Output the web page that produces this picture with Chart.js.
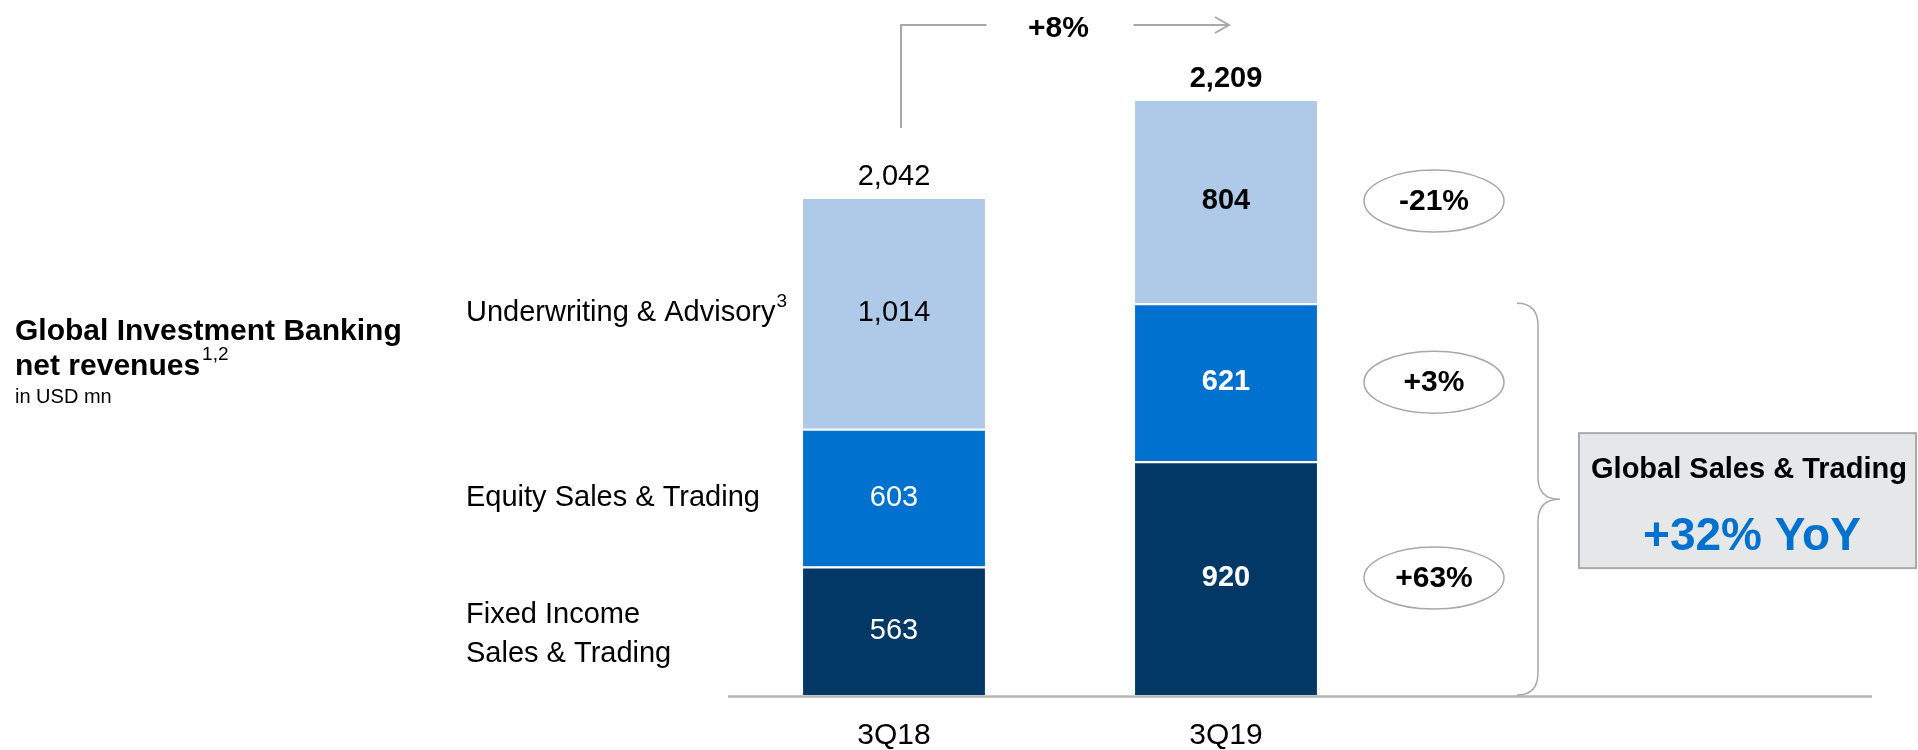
<!DOCTYPE html>
<html>
<head>
<meta charset="utf-8">
<title>Global Investment Banking net revenues</title>
<script src="https://cdn.jsdelivr.net/npm/chart.js@4.4.1/dist/chart.umd.min.js"></script>
<style>
  html, body { margin: 0; padding: 0; background: #fff; }
  #wrap { width: 1918px; height: 750px; }
</style>
</head>
<body>
<div id="wrap"><canvas id="ib_chart" width="1918" height="750"></canvas></div>
<script>
// data
const periods = ['3Q18', '3Q19'];
const segments = ['Fixed Income\nSales & Trading', 'Equity Sales & Trading', 'Underwriting & Advisory'];
const segmentNotes = ['', '', '3'];
const fixedIncome = [563, 920];
const equity = [603, 621];
const underwriting = [1014, 804];
const totals = [2042, 2209];
const segmentChanges = ['+63%', '+3%', '-21%'];
const totalChange = '+8%';
const salesTradingLabel = 'Global Sales & Trading';
const salesTradingChange = '+32% YoY';

const COLORS = ['#023866', '#0071CE', '#AFC9E9'];
const FONT = "'Liberation Sans', Arial, Helvetica, sans-serif";
const LINE_GREY = '#a8a8a8';

// the slide draws each quarter to its own scale, so each quarter gets its own y axis
const seriesValues = [fixedIncome, equity, underwriting];
const axisIds = ['y', 'y2'];

var datasets = [];
periods.forEach(function (p, pi) {
    seriesValues.forEach(function (vals, si) {
        datasets.push({
            label: segments[si] + ' ' + p,
            data: periods.map(function (_, i) { return i === pi ? vals[i] : null; }),
            backgroundColor: COLORS[si],
            borderColor: '#ffffff',
            borderWidth: {top: 2, left: 0, right: 0, bottom: 0},
            yAxisID: axisIds[pi],
            period: pi,
            segment: si
        });
    });
});

function metaFor(chart, pi, si) {
    var idx = chart.data.datasets.findIndex(function (d) { return d.period === pi && d.segment === si; });
    return chart.getDatasetMeta(idx).data[pi];
}

function font(size, bold) {
    return (bold ? 'bold ' : '') + size + 'px ' + FONT;
}

const annotations = {
    id: 'annotations',
    afterDatasetsDraw: function (chart) {
        var ctx = chart.ctx;
        var area = chart.chartArea;
        ctx.save();

        // base line
        ctx.strokeStyle = '#b4b4b4';
        ctx.lineWidth = 2.5;
        ctx.beginPath();
        ctx.moveTo(area.left, area.bottom + 1.5);
        ctx.lineTo(1872, area.bottom + 1.5);
        ctx.stroke();

        // values inside the segments
        ctx.textAlign = 'center';
        ctx.textBaseline = 'middle';
        chart.data.datasets.forEach(function (ds, di) {
            var el = chart.getDatasetMeta(di).data[ds.period];
            var v = ds.data[ds.period];
            ctx.fillStyle = ds.segment === 2 ? '#000' : '#fff';
            ctx.font = font(29, ds.period === 1);
            ctx.fillText(v.toLocaleString('en-US'), el.x, (el.y + el.base) / 2);
        });

        // totals on top
        periods.forEach(function (p, pi) {
            var top = metaFor(chart, pi, 2);
            ctx.fillStyle = '#000';
            ctx.font = font(29, pi === 1);
            ctx.fillText(totals[pi].toLocaleString('en-US'), top.x, top.y - 20);
        });

        // segment names left of 3Q18
        ctx.textAlign = 'left';
        ctx.fillStyle = '#000';
        segments.forEach(function (name, si) {
            var el = metaFor(chart, 0, si);
            var lines = name.split('\n');
            var cy = (el.y + el.base) / 2 + (lines.length > 1 ? 4 : 0);
            lines.forEach(function (ln, li) {
                var y = cy + (li - (lines.length - 1) / 2) * 39;
                ctx.font = font(29, false);
                ctx.fillText(ln, 466, y);
                if (segmentNotes[si] && li === lines.length - 1) {
                    var w = ctx.measureText(ln).width;
                    ctx.font = font(19, false);
                    ctx.fillText(segmentNotes[si], 466 + w + 1, y - 11);
                }
            });
        });

        // change ovals next to 3Q19
        ctx.textAlign = 'center';
        segments.forEach(function (name, si) {
            var el = metaFor(chart, 1, si);
            var cx = el.x + 208;
            var cy = (el.y + el.base) / 2;
            ctx.strokeStyle = LINE_GREY;
            ctx.lineWidth = 1.5;
            ctx.beginPath();
            ctx.ellipse(cx, cy, 70, 31, 0, 0, Math.PI * 2);
            ctx.stroke();
            ctx.fillStyle = '#000';
            ctx.font = font(30, true);
            ctx.fillText(segmentChanges[si], cx, cy + 1);
        });

        // brace over the two sales & trading segments
        var eq = metaFor(chart, 1, 1);
        var fi = metaFor(chart, 1, 0);
        var bTop = eq.y, bBot = fi.base;
        var bMid = (bTop + bBot) / 2;
        var x0 = eq.x + eq.width / 2 + 200;
        var xv = x0 + 21, xt = x0 + 43;
        ctx.strokeStyle = LINE_GREY;
        ctx.lineWidth = 1.5;
        ctx.beginPath();
        ctx.moveTo(x0, bTop);
        ctx.quadraticCurveTo(xv, bTop, xv, bTop + 22);
        ctx.lineTo(xv, bMid - 22);
        ctx.quadraticCurveTo(xv, bMid, xt, bMid);
        ctx.quadraticCurveTo(xv, bMid, xv, bMid + 22);
        ctx.lineTo(xv, bBot - 22);
        ctx.quadraticCurveTo(xv, bBot, x0, bBot);
        ctx.stroke();

        // grey box
        var bx = xt + 19, by = bMid - 66;
        ctx.fillStyle = '#e6e7e8';
        ctx.fillRect(bx, by, 1916 - bx, 135);
        ctx.strokeStyle = '#a9a9a9';
        ctx.lineWidth = 2;
        ctx.strokeRect(bx, by, 1916 - bx, 135);
        ctx.fillStyle = '#000';
        ctx.font = font(29, true);
        ctx.fillText(salesTradingLabel, bx + 170, by + 37);
        ctx.fillStyle = '#0071CE';
        ctx.font = font(46, true);
        ctx.fillText(salesTradingChange, bx + 173, by + 104);

        // +8% arrow between the totals
        var t0 = metaFor(chart, 0, 2);
        var t1 = metaFor(chart, 1, 2);
        var ax = t0.x + 7, ay = 25;
        var mid = (ax + t1.x) / 2;
        ctx.strokeStyle = LINE_GREY;
        ctx.lineWidth = 2;
        ctx.beginPath();
        ctx.moveTo(ax, 128);
        ctx.lineTo(ax, ay);
        ctx.lineTo(mid - 77, ay);
        ctx.moveTo(mid + 70, ay);
        ctx.lineTo(t1.x + 3, ay);
        ctx.moveTo(t1.x - 11, ay - 8);
        ctx.lineTo(t1.x + 3, ay);
        ctx.lineTo(t1.x - 11, ay + 8);
        ctx.stroke();
        ctx.fillStyle = '#000';
        ctx.font = font(30, true);
        ctx.fillText(totalChange, mid - 5, ay + 4);

        // title block
        ctx.textAlign = 'left';
        ctx.textBaseline = 'alphabetic';
        ctx.font = font(30, true);
        ctx.fillText('Global Investment Banking', 15, 340);
        ctx.fillText('net revenues', 15, 375);
        var nw = ctx.measureText('net revenues').width;
        ctx.font = font(19, false);
        ctx.fillText('1,2', 15 + nw + 2, 360);
        ctx.font = font(20, false);
        ctx.fillText('in USD mn', 15, 403);

        ctx.restore();
    }
};

var ctx = document.getElementById('ib_chart').getContext('2d');
window.ibChart = new Chart(ctx, {
    type: 'bar',
    data: {
        labels: periods,
        datasets: datasets
    },
    options: {
        responsive: false,
        animation: false,
        barPercentage: 0.548,
        categoryPercentage: 1,
        layout: {
            padding: {left: 728, right: 526, top: 60, bottom: 0}
        },
        plugins: {
            legend: {display: false},
            tooltip: {enabled: false}
        },
        scales: {
            x: {
                stacked: true,
                grid: {display: false, drawTicks: false},
                border: {display: false},
                ticks: {
                    color: '#000',
                    padding: 23,
                    font: {family: FONT, size: 30}
                },
                afterFit: function (s) { s.height = 55; }
            },
            y: {stacked: true, display: false, min: 0, max: 2780},
            y2: {stacked: true, display: false, min: 0, max: 2498}
        }
    },
    plugins: [annotations]
});
</script>
</body>
</html>
